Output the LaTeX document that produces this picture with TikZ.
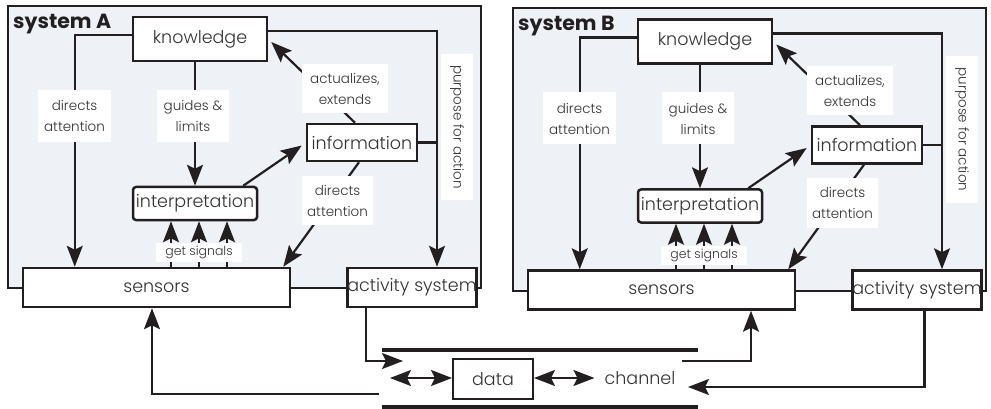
\documentclass[tikz,border=0pt]{standalone}
\usepackage{fontspec}
\IfFontExistsTF{Poppins Light}
  {\setmainfont{Poppins}[UprightFont=* Light, BoldFont=* Bold]}
  {\setmainfont{Poppins}}
\usetikzlibrary{arrows.meta,calc}

\definecolor{ink}{HTML}{231F20}
\definecolor{panel}{HTML}{EEF2F6}
\definecolor{txt}{HTML}{333333}

\tikzset{
  bigtip/.tip={Stealth[length=21pt,width=16pt,inset=4pt]},
  conn/.style={draw=ink, line width=2.2pt},
  arr/.style={conn, -bigtip},
  dblarr/.style={conn, bigtip-bigtip},
  unit/.style={draw=ink, line width=2.5pt, fill=white, inner sep=0pt,
    font=\fontsize{17.5}{19}\selectfont, text=txt},
  tag/.style={fill=white, inner sep=0pt, align=center,
    font=\fontsize{13.5}{21}\selectfont, text=txt},
  frame/.style={draw=ink, line width=2pt, fill=panel},
  title/.style={font=\bfseries\fontsize{20.5}{22}\selectfont, text=ink,
    anchor=west, inner sep=0pt},
  rail/.style={draw=ink, line width=3.5pt},
}

% one complete system: frame, units, connectors and their labels
\newcommand\sysunit[2]{%
  \path[frame] (7.5,6) rectangle (481,288);
  \node[title] (#1-title) at (13,24) {#2};
  \node[unit, minimum width=134pt, minimum height=44pt] (#1-know) at (200,39) {knowledge};
  \node[unit, rounded corners=3pt, minimum width=124pt, minimum height=33pt] (#1-interp) at (195,203.5) {interpretation};
  \node[unit, minimum width=110pt, minimum height=37pt] (#1-info) at (362,142.5) {information};
  \node[unit, minimum width=267pt, minimum height=39pt] (#1-sens) at (156.5,287.5) {sensors};
  \node[unit, minimum width=128pt, minimum height=39pt] (#1-act) at (412,287.5) {activity system};
  \coordinate (#1-pc) at ([xshift=25pt]#1-act.north);
  % connectors
  \draw[arr] ([yshift=4pt]#1-know.west) -| ([xshift=53pt]#1-sens.north west);
  \draw[arr] (#1-interp.north |- #1-know.south) -- (#1-interp.north);
  \draw[arr] ([xshift=-15pt]#1-interp.north east) -- ([shift={(-4pt,-3pt)}]#1-info.west);
  \draw[arr] ([xshift=-7pt]#1-info.north) -- ([shift={(3pt,-3pt)}]#1-know.east);
  \draw[arr] ([xshift=-3pt]#1-info.south) -- ([xshift=-8pt]#1-sens.north east);
  \draw[arr] ([yshift=8pt]#1-know.east) -| (#1-pc);
  \draw[conn] (#1-info.east) -- (#1-info.east -| #1-pc);
  \foreach \dx in {-24,4,32}
    \draw[arr] ([xshift=\dx pt]#1-interp.south |- #1-sens.north) -- ([xshift=\dx pt]#1-interp.south);
  % labels
  \node[tag, minimum width=73pt, minimum height=52pt] (#1-l1) at (74.5,116) {directs\\attention};
  \node[tag, minimum width=72pt, minimum height=52pt] (#1-l2) at (193,116) {guides \&\\limits};
  \node[tag, minimum width=86pt, minimum height=49pt] (#1-l3) at (345,88.5) {actualizes,\\extends};
  \node[tag, minimum width=71pt, minimum height=49pt] (#1-l4) at (337.5,200.5) {directs\\attention};
  \node[tag, rotate=-90, minimum width=146pt, minimum height=32pt] (#1-l5) at (457,127) {purpose for action};
  \node[tag, font=\fontsize{12.5}{14}\selectfont, minimum width=86pt, minimum height=19pt] (#1-l6) at (199,252.5) {get signals};
}

\begin{document}
\begin{tikzpicture}[x=1pt,y=-1pt]
  \useasboundingbox (0,0) rectangle (991,409);

  \begin{scope}
    \sysunit{A}{system A}
  \end{scope}
  \begin{scope}[shift={(505,2.5)}]
    \sysunit{B}{system B}
  \end{scope}

  % the channel between the two systems
  \draw[rail] (382,350) coordinate (rt1) -- (698,350) coordinate (rt2);
  \draw[rail] (382,407) coordinate (rb1) -- (698,407) coordinate (rb2);
  \node[unit, line width=2pt, minimum width=80pt, minimum height=40pt] (data) at (493,379) {data};
  \node[text=txt, inner sep=0pt, font=\fontsize{17.5}{19}\selectfont] (chan) at (640,378) {channel};
  \coordinate (chL) at (390,378);
  \draw[dblarr] (chL) -- (data.west |- chL);
  \draw[dblarr] (data.east |- chL) -- ([xshift=-10pt]chan.west);

  \coordinate (inA) at (403,361);
  \coordinate (outA) at (379,394);
  \coordinate (outB) at (682,361);
  \coordinate (inB) at (688,387);
  \draw[arr] ([xshift=-46pt]A-act.south) |- (inA);
  \draw[arr] (outA) -| ([xshift=-4.5pt]A-sens.south);
  \draw[arr] (outB) -| ([xshift=89.5pt]B-sens.south);
  \draw[arr] ([xshift=7.5pt]B-act.south) |- (inB);
\end{tikzpicture}
\end{document}
